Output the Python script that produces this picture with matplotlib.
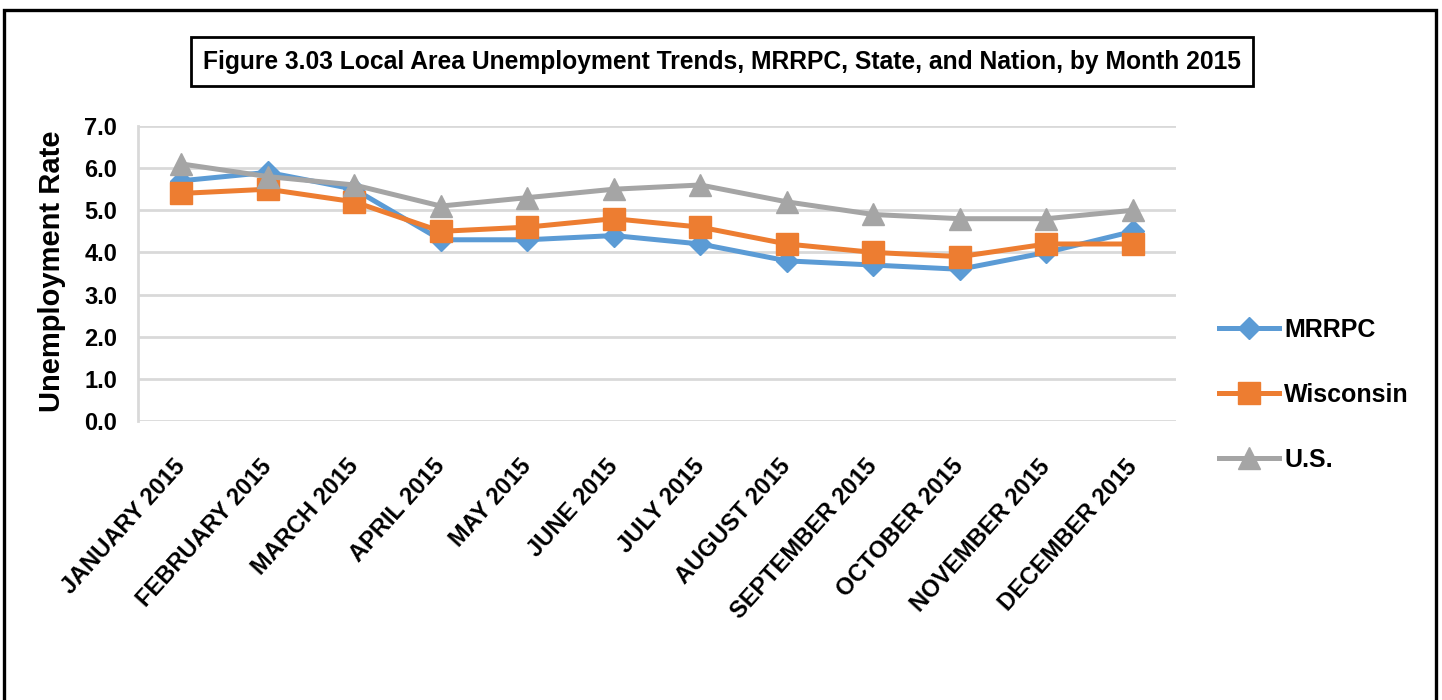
import matplotlib.pyplot as plt
import matplotlib.patches as patches
import numpy as np

months = ['JANUARY 2015', 'FEBRUARY 2015', 'MARCH 2015', 'APRIL 2015', 'MAY 2015',
          'JUNE 2015', 'JULY 2015', 'AUGUST 2015', 'SEPTEMBER 2015', 'OCTOBER 2015',
          'NOVEMBER 2015', 'DECEMBER 2015']
mrrpc = [5.7, 5.9, 5.5, 4.3, 4.3, 4.4, 4.2, 3.8, 3.7, 3.6, 4.0, 4.5]
wisconsin = [5.4, 5.5, 5.2, 4.5, 4.6, 4.8, 4.6, 4.2, 4.0, 3.9, 4.2, 4.2]
us = [6.1, 5.8, 5.6, 5.1, 5.3, 5.5, 5.6, 5.2, 4.9, 4.8, 4.8, 5.0]
y_ticks = [0, 1, 2, 3, 4, 5, 6, 7]

font = 'Liberation Sans'

fig = plt.figure(figsize=(14.42, 7), dpi=100)
ax = fig.add_axes([0.0957, 0.3986, 0.72, 0.4214])

x = np.arange(len(months))
ax.plot(x, mrrpc, color='#5B9BD5', lw=3.6, marker='D', ms=11, label='MRRPC', zorder=3)
ax.plot(x, wisconsin, color='#ED7D31', lw=3.6, marker='s', ms=16, label='Wisconsin', zorder=4)
ax.plot(x, us, color='#A5A5A5', lw=3.6, marker='^', ms=16, label='U.S.', zorder=5)

ax.set_xlim(-0.5, len(months) - 0.5)
ax.set_ylim(0, 7)
ax.set_yticks(y_ticks)
ax.set_yticklabels([f'{v:.1f}' for v in y_ticks], family=font, fontweight='bold', fontsize=17)
ax.set_xticks(x)
ax.set_xticklabels(months, rotation=48, ha='right', va='center', rotation_mode='anchor',
                   fontsize=17, fontweight='bold', family=font)
ax.tick_params(axis='both', length=0)
ax.tick_params(axis='y', pad=15)
ax.tick_params(axis='x', pad=30)
ax.grid(axis='y', color='#D9D9D9', lw=2)
ax.set_axisbelow(True)
for s in ['top', 'right', 'bottom']:
    ax.spines[s].set_visible(False)
ax.spines['left'].set_color('#D9D9D9')
ax.spines['left'].set_linewidth(2)

fig.text(0.036, 0.613, 'Unemployment Rate', rotation=90, ha='center', va='center',
         family=font, fontweight='bold', fontsize=21)

fig.text(0.5007, 0.912, 'Figure 3.03 Local Area Unemployment Trends, MRRPC, State, and Nation, by Month 2015',
         ha='center', va='center', family=font, fontweight='bold', fontsize=17.7,
         bbox=dict(boxstyle='square,pad=0.5', fc='white', ec='black', lw=2))

ax.legend(loc='center left', bbox_to_anchor=(0.83, 0.436), bbox_transform=fig.transFigure,
          frameon=False, handlelength=2.4, labelspacing=1.65, handletextpad=0.2,
          prop={'family': font, 'weight': 'bold', 'size': 18})

# outer frame (no bottom edge visible in the reference)
fig.patches.append(patches.Rectangle((0.0031, -0.05), 0.9927, 0.986 + 0.05,
                                     transform=fig.transFigure, fill=False, ec='black', lw=2.4))

fig.savefig('out.png', dpi=100)
